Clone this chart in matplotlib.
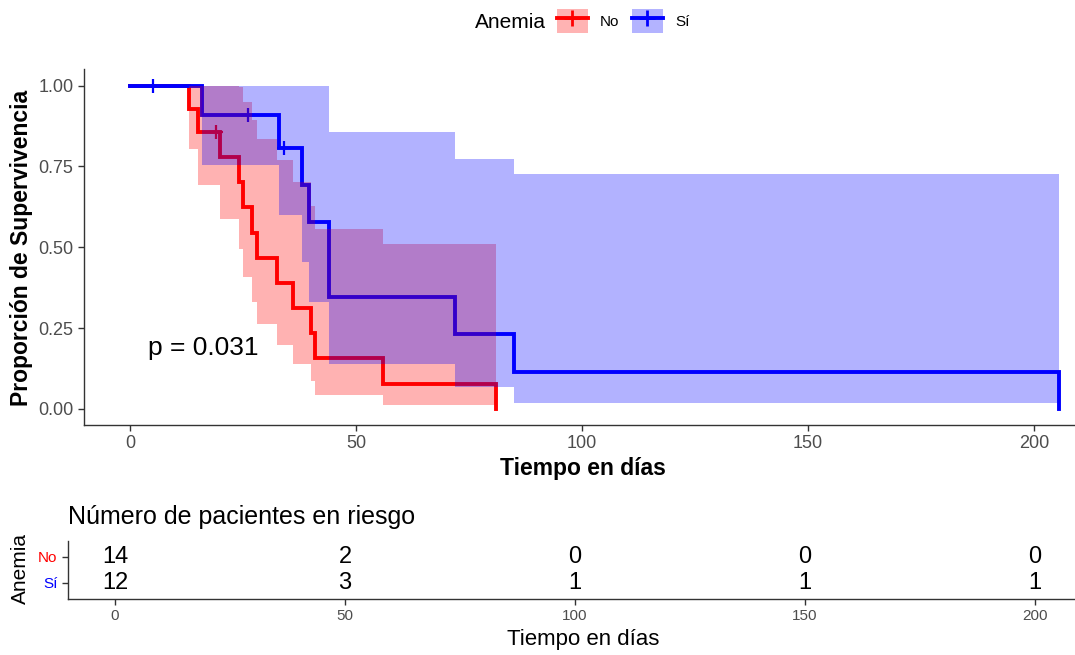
import matplotlib.pyplot as plt
from matplotlib.patches import Patch
from matplotlib.lines import Line2D
from matplotlib.legend_handler import HandlerTuple

plt.rcParams['font.family'] = ['Liberation Sans', 'DejaVu Sans']

# curva Kaplan-Meier, grupo "No"
t_no = [0, 13, 15, 20, 24, 25, 27, 28, 32.5, 36, 40, 41, 56, 81]
s_no = [1.0, 0.929, 0.857, 0.779, 0.701, 0.623, 0.545, 0.468, 0.390, 0.312, 0.234, 0.156, 0.078, 0.0]
lo_no = [1.0, 0.803, 0.692, 0.587, 0.494, 0.409, 0.332, 0.262, 0.197, 0.139, 0.087, 0.044, 0.012]
hi_no = [1.0, 1.0, 1.0, 1.0, 0.996, 0.949, 0.895, 0.835, 0.771, 0.701, 0.628, 0.556, 0.511]
cens_no_t = [19]
cens_no_s = [0.857]

# grupo "Sí"
t_si = [0, 16, 33, 38, 39.5, 44, 72, 85, 205.5]
s_si = [1.0, 0.909, 0.808, 0.693, 0.577, 0.346, 0.231, 0.115, 0.0]
lo_si = [1.0, 0.754, 0.600, 0.453, 0.331, 0.140, 0.069, 0.018]
hi_si = [1.0, 1.0, 1.0, 1.0, 1.0, 0.857, 0.773, 0.726]
cens_si_t = [5, 26, 34]
cens_si_s = [1.0, 0.909, 0.808]

# tabla de riesgo
risk_times = [0, 50, 100, 150, 200]
risk_no = [14, 2, 0, 0, 0]
risk_si = [12, 3, 1, 1, 1]
grupos = ['No', 'Sí']
colores = ['#FF0000', '#0000FF']

W, H = 1075, 655
fig = plt.figure(figsize=(W / 100, H / 100), dpi=100)

def fx(px):
    return px / W

def fy(py):
    return 1 - py / H

gris = '#4D4D4D'
eje = '#333333'

# ---- grafico principal
ax = fig.add_axes([fx(83.7), fy(425), fx(1102.9) - fx(83.7), fy(69.5) - fy(425)])
curvas = [(t_no, s_no, lo_no, hi_no, cens_no_t, cens_no_s),
          (t_si, s_si, lo_si, hi_si, cens_si_t, cens_si_s)]
for (t, s, lo, hi, ct, cs), c in zip(curvas, colores):
    ax.step(t, s, where='post', color=c, lw=2.8, zorder=2, solid_joinstyle='miter')
    ax.plot(ct, cs, ls='none', marker='+', ms=10, mew=1.6, color=c, zorder=2)
for (t, s, lo, hi, ct, cs), c in zip(curvas, colores):
    ax.fill_between(t, lo + [lo[-1]], hi + [hi[-1]], step='post', color=c,
                    alpha=0.3, lw=0, zorder=3)

ax.text(4, 0.167, 'p = 0.031', fontsize=19, ha='left', va='baseline')

ax.set_xlim(-10.25, 215.25)
ax.set_ylim(-0.05, 1.05)
ax.set_xticks([0, 50, 100, 150, 200])
ax.set_yticks([0, 0.25, 0.5, 0.75, 1.0])
ax.set_yticklabels(['0.00', '0.25', '0.50', '0.75', '1.00'])
for sp in ['top', 'right']:
    ax.spines[sp].set_visible(False)
for sp in ['left', 'bottom']:
    ax.spines[sp].set_color(eje)
    ax.spines[sp].set_linewidth(1.0)
ax.tick_params(colors=eje, labelcolor=gris, labelsize=13, length=4.5, width=1.0, pad=3)
ax.set_ylabel('Proporción de Supervivencia', fontsize=16.5, fontweight='bold')
ax.yaxis.set_label_coords(fx(22), fy(248), transform=fig.transFigure)
ax.yaxis.label.set_verticalalignment('center')
ax.set_xlabel('Tiempo en días', fontsize=16.5, fontweight='bold')
ax.xaxis.set_label_coords(fx(583), fy(468), transform=fig.transFigure)
ax.xaxis.label.set_verticalalignment('center')

# ---- leyenda
fig.text(fx(475), fy(22), 'Anemia', fontsize=15, ha='left', va='center')
handles = []
for c, fc in zip(colores, ['#FFB3B3', '#B3B3FF']):
    handles.append((Patch(facecolor=fc, edgecolor='none'),
                    Line2D([], [], color=c, lw=2.8, marker='+', ms=12, mew=2)))
fig.legend(handles, grupos, loc='center left', bbox_to_anchor=(fx(557), fy(21)),
           ncol=2, frameon=False, fontsize=11, handlelength=2.0, handleheight=2.0,
           handletextpad=0.8, columnspacing=0.85, borderpad=0, borderaxespad=0,
           handler_map={tuple: HandlerTuple(ndivide=1, pad=0)})

# ---- tabla de pacientes en riesgo
at = fig.add_axes([fx(67.85), fy(598.6), fx(1105) - fx(67.85), fy(541.4) - fy(598.6)])
at.set_xlim(-10.25, 215.25)
at.set_ylim(0.4, 2.6)
for x, n1, n2 in zip(risk_times, risk_no, risk_si):
    at.text(x, 2, str(n1), fontsize=17, ha='center', va='center')
    at.text(x, 1, str(n2), fontsize=17, ha='center', va='center')
at.set_xticks(risk_times)
at.set_yticks([2, 1])
at.set_yticklabels(grupos)
for sp in ['top', 'right']:
    at.spines[sp].set_visible(False)
for sp in ['left', 'bottom']:
    at.spines[sp].set_color(eje)
    at.spines[sp].set_linewidth(1.0)
at.tick_params(axis='x', colors=eje, labelcolor=gris, labelsize=11, length=4.5, width=1.0, pad=3)
at.tick_params(axis='y', colors=eje, labelsize=11, length=4.5, width=1.0, pad=3)
for lbl, c in zip(at.get_yticklabels(), colores):
    lbl.set_color(c)
at.set_xlabel('Tiempo en días', fontsize=16)
at.xaxis.set_label_coords(fx(583), fy(640), transform=fig.transFigure)
at.xaxis.label.set_verticalalignment('center')
at.set_ylabel('Anemia', fontsize=15)
at.yaxis.set_label_coords(fx(20), fy(569), transform=fig.transFigure)
at.yaxis.label.set_verticalalignment('center')
fig.text(fx(68), fy(517), 'Número de pacientes en riesgo', fontsize=18, ha='left', va='center')

fig.savefig('out.png', dpi=100)
